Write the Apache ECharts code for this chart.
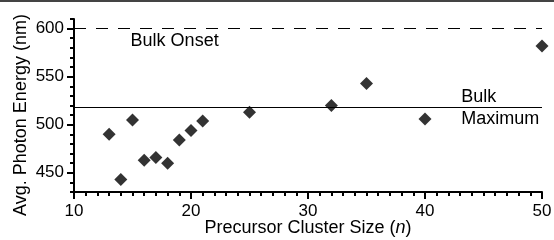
<!DOCTYPE html>
<html>
<head>
<meta charset="utf-8">
<script src="https://cdn.jsdelivr.net/npm/echarts@6/dist/echarts.min.js"></script>
<style>
  html, body { margin: 0; padding: 0; background: #fff; }
  #chart { width: 554px; height: 240px; }
</style>
</head>
<body>
<div id="chart"></div>
<script>
var clusterSize = [13, 14, 15, 16, 17, 18, 19, 20, 21, 25, 32, 35, 40, 50];
var photonEnergy = [490, 443, 505, 463, 466, 460, 484, 494, 504, 513, 520, 543, 506, 582];
var yMajorTicks = [450, 500, 550, 600];
var bulkOnset = 600;
var bulkMaximum = 518;

var chart = echarts.init(document.getElementById('chart'));
var font = 'Liberation Sans, Arial, sans-serif';

var points = clusterSize.map(function (n, i) { return [n, photonEnergy[i]]; });

var option = {
    animation: false,
    textStyle: { fontFamily: font },
    grid: { left: 74, right: 12, top: 19, bottom: 48, outerBoundsMode: 'none' },
    graphic: [{
        type: 'rect',
        shape: { x: 0, y: 0, width: 554, height: 2 },
        style: { fill: '#444' }
    }],
    xAxis: [{
        // minor ticks
        type: 'value', min: 10, max: 50, interval: 1,
        axisLine: { show: true, lineStyle: { color: '#000', width: 2 } },
        axisTick: { show: true, length: 4, lineStyle: { color: '#000', width: 2 } },
        axisLabel: { show: false },
        splitLine: { show: false }
    }, {
        type: 'value', min: 10, max: 50, interval: 10, position: 'bottom',
        axisLine: { show: false },
        axisTick: { show: true, length: 7, lineStyle: { color: '#000', width: 2 } },
        axisLabel: { color: '#000', fontSize: 17, fontFamily: font, margin: 11 },
        splitLine: { show: false },
        name: 'Precursor Cluster Size ({i|n})',
        nameLocation: 'middle',
        nameGap: 27,
        nameMoveOverlap: false,
        nameTextStyle: {
            color: '#000', fontSize: 18, fontFamily: font,
            rich: { i: { fontStyle: 'italic', fontSize: 18, fontFamily: font, color: '#000' } }
        }
    }],
    yAxis: [{
        type: 'value', min: 430, max: 610, interval: 10,
        axisLine: { show: true, lineStyle: { color: '#000', width: 2 } },
        axisTick: { show: true, length: 4, lineStyle: { color: '#000', width: 2 } },
        axisLabel: { show: false },
        splitLine: { show: false }
    }, {
        type: 'value', min: 430, max: 610, position: 'left',
        axisLine: { show: false },
        axisTick: { show: true, length: 7, customValues: yMajorTicks, lineStyle: { color: '#000', width: 2 } },
        axisLabel: { color: '#000', fontSize: 17, fontFamily: font, margin: 10, customValues: yMajorTicks },
        splitLine: { show: false },
        name: 'Avg. Photon Energy (nm)',
        nameLocation: 'middle',
        nameGap: 44,
        nameMoveOverlap: false,
        nameTextStyle: { color: '#000', fontSize: 18, fontFamily: font, padding: [0, 19, 0, 0] }
    }],
    series: [{
        type: 'scatter',
        xAxisIndex: 0,
        yAxisIndex: 0,
        symbol: 'diamond',
        symbolSize: 13,
        itemStyle: { color: '#000' },
        data: points,
        z: 5,
        markLine: {
            silent: true,
            symbol: 'none',
            label: { show: false },
            data: [
                { yAxis: bulkOnset, lineStyle: { type: [12, 10], color: '#000', width: 1 } },
                { yAxis: bulkMaximum, lineStyle: { type: 'solid', color: '#000', width: 1 } }
            ]
        },
        markPoint: {
            silent: true,
            symbol: 'circle',
            symbolSize: 0,
            label: {
                show: true, position: 'inside', color: '#000',
                fontSize: 18, fontFamily: font
            },
            data: [
                { coord: [18.6, 587], value: 'Bulk Onset', label: { formatter: 'Bulk Onset', align: 'center' } },
                { coord: [43.1, 529], value: 'Bulk', label: { formatter: 'Bulk', align: 'left' } },
                { coord: [43.1, 506], value: 'Maximum', label: { formatter: 'Maximum', align: 'left' } }
            ]
        }
    }]
};

chart.setOption(option);
</script>
</body>
</html>
